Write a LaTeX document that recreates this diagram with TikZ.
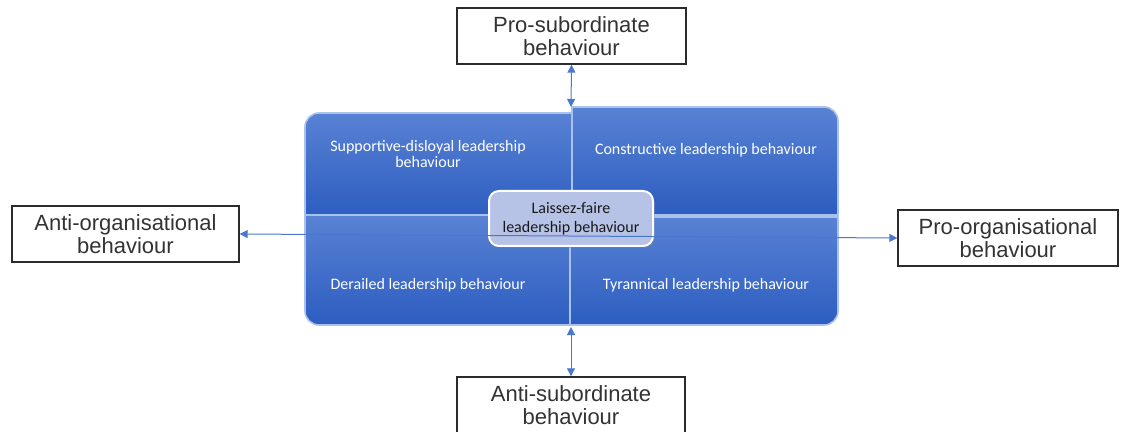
\documentclass[tikz,border=0pt]{standalone}
\usepackage{fontspec}
\setmainfont{Liberation Sans}
\newfontfamily\calib{Carlito}
\usetikzlibrary{arrows.meta,shadows}
\definecolor{qtop}{HTML}{5982D4}
\definecolor{qbot}{HTML}{2C5DC0}
\definecolor{rim}{HTML}{A9C2EC}
\definecolor{arr}{HTML}{4A78CC}
\definecolor{cfill}{HTML}{B6C2E6}
\definecolor{boxline}{HTML}{2B2B2B}
\definecolor{boxtext}{HTML}{333333}
\begin{document}
\begin{tikzpicture}[x=0.5pt,y=-0.5pt,
  outbox/.style={draw=boxline, line width=0.7pt, fill=white, inner sep=0pt, align=center,
    font=\fontsize{11}{11.2}\selectfont, text=boxtext, minimum height=28pt},
  quad/.style={top color=qtop, bottom color=qbot, draw=rim, line width=0.8pt},
  quadtext/.style={text=white, font=\calib\fontsize{8}{6.6}\selectfont, align=center, inner sep=0pt},
  centrebox/.style={fill=cfill, draw=white, line width=1pt, rounded corners=5pt,
    minimum width=82pt, minimum height=27.5pt, align=center, inner sep=0pt,
    font=\calib\fontsize{8}{9.5}\selectfont, text=black!90,
    drop shadow={opacity=0.45, shadow xshift=0.8pt, shadow yshift=-1pt}},
  arrowline/.style={draw=arr, line width=0.5pt, {Triangle[length=4pt,width=4pt]}-{Triangle[length=4pt,width=4pt]}}]
\useasboundingbox (0,0) rectangle (1122,432);

% outer boxes
\node[outbox, minimum width=114.5pt] (psub) at (571.5,36) {Pro-subordinate\\behaviour};
\node[outbox, minimum width=114pt] (asub) at (571,405) {Anti-subordinate\\behaviour};
\node[outbox, minimum width=113.5pt] (aorg) at (125.5,234) {Anti-organisational\\behaviour};
\node[outbox, minimum width=110pt] (porg) at (1008,238) {Pro-organisational\\behaviour};

% matrix quadrants
\shade[quad] (572,217) -- (305,217) -- (305,127) arc[start angle=180,end angle=90,radius=7pt] -- (572,113) -- cycle;
\shade[quad] (572,107) -- (824,107) arc[start angle=90,end angle=0,radius=7pt] -- (838,215) -- (572,215) -- cycle;
\shade[quad] (570,215) -- (305,215) -- (305,311) arc[start angle=180,end angle=270,radius=7pt] -- (570,325) -- cycle;
\shade[quad] (570,217) -- (838,217) -- (838,311) arc[start angle=0,end angle=-90,radius=7pt] -- (570,325) -- cycle;

\node[quadtext] (q1) at (428,154) {Supportive-disloyal leadership\\behaviour};
\node[quadtext] (q2) at (706,150) {Constructive leadership behaviour};
\node[quadtext] (q3) at (428,285) {Derailed leadership behaviour};
\node[quadtext] (q4) at (706,285) {Tyrannical leadership behaviour};

\node[centrebox] (lf) at (571,218.5) {Laissez-faire\\leadership behaviour};

\coordinate (mtop) at (571,107);
\coordinate (mbot) at (571,327);

\draw[arrowline] (psub.south) -- (mtop);
\draw[arrowline] (mbot) -- (asub.north);
\draw[arrowline] (aorg.east) -- (porg.west);
\end{tikzpicture}
\end{document}
